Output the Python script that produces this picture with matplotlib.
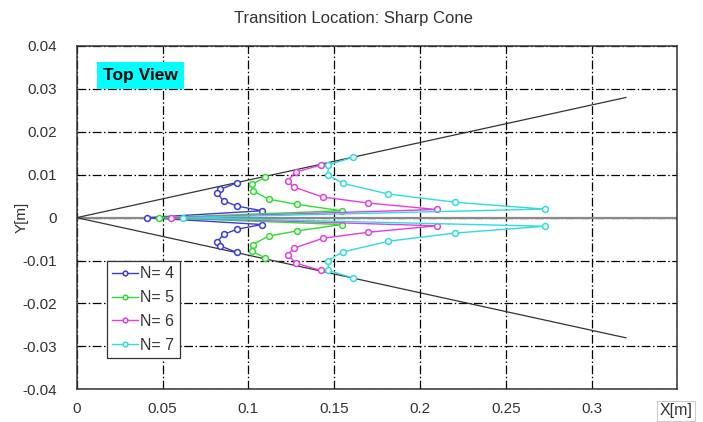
import matplotlib
matplotlib.use("Agg")
import matplotlib.pyplot as plt
import numpy as np

plt.rcParams['font.family'] = ['Liberation Sans', 'DejaVu Sans']

# ---- data ----
labels = ["N= 4", "N= 5", "N= 6", "N= 7"]
colors = ["#3c3cd8", "#30dd30", "#e040e0", "#30dcdc"]

# upper branch: from cone wall to the tip (x [m], y [m])
x_n4 = [0.0934, 0.0837, 0.0818, 0.0856, 0.0934, 0.1080]
y_n4 = [0.0081, 0.0066, 0.0057, 0.0039, 0.0027, 0.0016]
x_n5 = [0.1099, 0.1021, 0.1025, 0.1118, 0.1283, 0.1545]
y_n5 = [0.0094, 0.0078, 0.0063, 0.0043, 0.0031, 0.0016]
x_n6 = [0.1424, 0.1277, 0.1229, 0.1267, 0.1434, 0.1700, 0.2097]
y_n6 = [0.0123, 0.0106, 0.0086, 0.0071, 0.0048, 0.0034, 0.0019]
x_n7 = [0.1612, 0.1467, 0.1463, 0.1550, 0.1816, 0.2203, 0.2727]
y_n7 = [0.0141, 0.0123, 0.0100, 0.0080, 0.0055, 0.0036, 0.0020]
# point on the axis (y = 0) for each N
x_axis = [0.0407, 0.0478, 0.0550, 0.0620]

# cone outline
cone_x = [0.0, 0.32]
cone_y = [0.0, 0.028]

xticks = [0, 0.05, 0.1, 0.15, 0.2, 0.25, 0.3, 0.35]
xticklabels = ["0", "0.05", "0.1", "0.15", "0.2", "0.25", "0.3", ""]
yticks = [-0.04, -0.03, -0.02, -0.01, 0, 0.01, 0.02, 0.03, 0.04]
yticklabels = ["-0.04", "-0.03", "-0.02", "-0.01", "0", "0.01", "0.02", "0.03", "0.04"]

xs = [x_n4, x_n5, x_n6, x_n7]
ys = [y_n4, y_n5, y_n6, y_n7]

fig = plt.figure(figsize=(7.03, 4.22), dpi=100)
ax = fig.add_axes([0.1091, 0.0775, 0.8544, 0.8135])

txtcol = "#333333"

# centerline and cone walls
ax.axhline(0, color="#8a8a8a", lw=1.6, zorder=2)
ax.plot(cone_x, cone_y, color="#333333", lw=0.9, zorder=3)
ax.plot(cone_x, [-v for v in cone_y], color="#333333", lw=0.9, zorder=3)

for xu, yu, xa, c, lab in zip(xs, ys, x_axis, colors, labels):
    xf = list(xu) + [xa] + list(xu[::-1])
    yf = list(yu) + [0.0] + [-v for v in yu[::-1]]
    ax.plot(xf, yf, color=c, lw=1.0, marker="o", ms=4.2,
            mfc="white", mec=c, mew=1.1, label=lab, zorder=4)

ax.set_xlim(0, 0.35)
ax.set_ylim(-0.04, 0.04)
ax.set_xticks(xticks)
ax.set_xticklabels(xticklabels)
ax.set_yticks(yticks)
ax.set_yticklabels(yticklabels)
ax.tick_params(length=0, labelsize=11, colors=txtcol)
ax.tick_params(axis="y", pad=14)
ax.tick_params(axis="x", pad=9)
ax.grid(True, color="black", ls="-.", lw=0.9, dashes=(7, 2, 1.2, 2))
ax.set_axisbelow(True)
for s in ax.spines.values():
    s.set_color("#333333")
    s.set_linewidth(1.1)

fig.text(0.031, 0.485, "Y[m]", rotation=90, ha="center", va="center",
         fontsize=11, color=txtcol)

fig.text(0.503, 0.957, "Transition Location: Sharp Cone", ha="center",
         va="center", fontsize=12, color=txtcol)

ax.text(0.044, 0.913, "Top View", transform=ax.transAxes, fontsize=12.5,
        fontweight="bold", color="black", va="center", ha="left",
        bbox=dict(boxstyle="square,pad=0.35", fc="#00ffff", ec="none"))

fig.text(0.962, 0.027, "X[m]", ha="center", va="center", fontsize=11.5,
         color=txtcol,
         bbox=dict(boxstyle="square,pad=0.15", fc="white", ec="#cccccc", lw=0.8))

leg = ax.legend(loc="lower left", bbox_to_anchor=(0.05, 0.09), fontsize=11.5,
                frameon=True, fancybox=False, edgecolor="#333333",
                framealpha=1, facecolor="white",
                handlelength=1.6, handletextpad=0.15, labelspacing=0.55,
                borderpad=0.35, borderaxespad=0.0, markerscale=0.8)
leg.get_frame().set_linewidth(0.9)
for t in leg.get_texts():
    t.set_color(txtcol)

fig.savefig("out.png", dpi=100)
